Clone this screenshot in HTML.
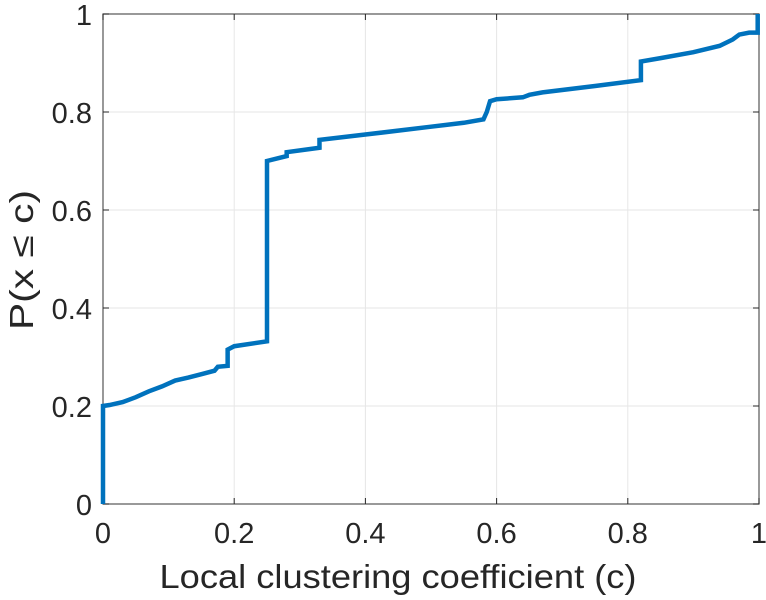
<!DOCTYPE html>
<html><head><meta charset="utf-8"><style>
body{margin:0;background:#fff;}
svg{display:block;font-family:"Liberation Sans",sans-serif;}
</style></head><body>
<svg id="chart" width="766" height="600"></svg>
<script>
const xTicks=[0,0.2,0.4,0.6,0.8,1];
const yTicks=[0,0.2,0.4,0.6,0.8,1];
const xTickLabels=["0","0.2","0.4","0.6","0.8","1"];
const yTickLabels=["0","0.2","0.4","0.6","0.8","1"];
const cdfX=[0,0,0.01,0.03,0.05,0.07,0.09,0.11,0.13,0.15,0.17,0.175,0.19,0.19,0.2,0.25,0.25,0.28,0.28,0.33,0.33,0.4,0.5,0.55,0.58,0.585,0.59,0.6,0.64,0.65,0.67,0.75,0.82,0.82,0.85,0.9,0.94,0.96,0.97,0.985,0.998,0.998];
const cdfY=[0,0.2,0.202,0.208,0.218,0.23,0.24,0.252,0.258,0.265,0.272,0.28,0.282,0.315,0.322,0.332,0.7,0.71,0.718,0.727,0.743,0.754,0.77,0.778,0.785,0.8,0.822,0.826,0.83,0.835,0.84,0.853,0.865,0.903,0.91,0.922,0.935,0.948,0.958,0.962,0.962,1];
const L=103,R=759,T=14,B=504;
const sx=v=>L+v*(R-L), sy=v=>B-v*(B-T);
const svg=document.getElementById('chart');
const NS='http://www.w3.org/2000/svg';
function mk(tag,attrs,parent){const e=document.createElementNS(NS,tag);for(const k in attrs)e.setAttribute(k,attrs[k]);(parent||svg).appendChild(e);return e;}
xTicks.forEach((v,i)=>{
 const g=mk('line',{x1:sx(v),x2:sx(v),y1:T,y2:B,stroke:'#e6e6e6','stroke-width':1});
 
 
});
yTicks.forEach((v,i)=>{
 const g=mk('line',{x1:L,x2:R,y1:sy(v),y2:sy(v),stroke:'#e6e6e6','stroke-width':1});
 
 
});
const box=mk('rect',{x:L,y:T,width:R-L,height:B-T,fill:'none',stroke:'#262626','stroke-width':1.3,'stroke-opacity':0.7});


xTicks.forEach((v,i)=>{
 mk('line',{x1:sx(v),x2:sx(v),y1:B,y2:B-6,stroke:'#262626'});
 mk('line',{x1:sx(v),x2:sx(v),y1:T,y2:T+6,stroke:'#262626'});
 const t=mk('text',{x:sx(v),y:543,'text-anchor':'middle','font-size':29,fill:'#262626'});
 t.textContent=xTickLabels[i];
 
 
});
yTicks.forEach((v,i)=>{
 mk('line',{x1:L,x2:L+6,y1:sy(v),y2:sy(v),stroke:'#262626'});
 mk('line',{x1:R,x2:R-6,y1:sy(v),y2:sy(v),stroke:'#262626'});
 const t=mk('text',{x:92,y:sy(v)+11,'text-anchor':'end','font-size':29,fill:'#262626'});
 t.textContent=yTickLabels[i];
 
 
});
const pts=cdfX.map((x,i)=>sx(x)+','+sy(cdfY[i])).join(' ');
const line=mk('polyline',{points:pts,fill:'none',stroke:'#0072bd','stroke-width':4.5,'stroke-linejoin':'miter'});


const xt=mk('text',{x:398,y:588,'text-anchor':'middle','font-size':33,fill:'#262626',textLength:477,lengthAdjust:'spacingAndGlyphs'});
xt.textContent='Local clustering coefficient (c)';


const yt=mk('text',{x:0,y:0,'text-anchor':'middle','font-size':33,fill:'#262626',textLength:140,lengthAdjust:'spacingAndGlyphs',transform:'translate(33,260) rotate(-90)'});
yt.textContent='P(x \u2264 c)';


</script>
</body></html>
